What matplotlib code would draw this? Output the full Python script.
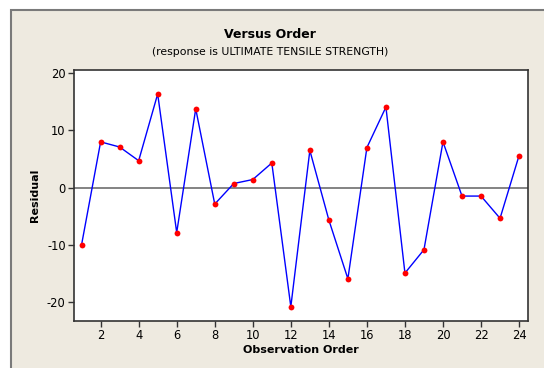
import numpy as np
import matplotlib.pyplot as plt
from matplotlib.patches import Rectangle

# residuals in observation order
order = np.arange(1, 25)
residual = [-10.0, 8.0, 7.1, 4.7, 16.4, -7.9, 13.8, -2.9, 0.7, 1.4, 4.3, -20.9,
            6.5, -5.7, -16.0, 7.0, 14.1, -15.0, -10.9, 8.0, -1.5, -1.5, -5.4, 5.6]
xticks = list(range(2, 25, 2))
yticks = [-20, -10, 0, 10, 20]

BG = '#EEEAE0'
plt.rcParams['font.family'] = 'DejaVu Sans'
plt.rcParams['axes.unicode_minus'] = False

fig = plt.figure(figsize=(5.44, 3.68), dpi=100)
fig.patch.set_facecolor('white')
# beige panel with grey frame (runs off the right/bottom edge)
fig.patches.append(Rectangle((11 / 544, -0.05), 1.2, 1 - 10 / 368 + 0.05,
                             transform=fig.transFigure, facecolor=BG,
                             edgecolor='#7a7a7a', linewidth=1.5, zorder=-1))

ax = fig.add_axes([74 / 544, 1 - 321 / 368, (528 - 74) / 544, (321 - 70) / 368])
ax.set_facecolor('white')
ax.axhline(0, color='#6e6e6e', linewidth=1.2, zorder=1)
ax.plot(order, residual, color='#0000FF', linewidth=1.0, zorder=2)
ax.plot(order, residual, 'o', color='#FF0000', markersize=4.2,
        markeredgewidth=0, zorder=3)

ax.set_xlim(0.6, 24.47)
ax.set_ylim(-23.4, 20.6)
ax.set_xticks(xticks)
ax.set_yticks(yticks)
ax.tick_params(direction='out', length=4, width=1, color='#333333',
               labelsize=8.3, pad=2)
for s in ax.spines.values():
    s.set_color('#333333')
    s.set_linewidth(1.2)

ax.set_xlabel('Observation Order', fontsize=8, fontweight='bold', labelpad=2)
ax.set_ylabel('Residual', fontsize=8, fontweight='bold', labelpad=5)

fig.text(270 / 544, 1 - 35 / 368, 'Versus Order', ha='center', va='center',
         fontsize=9, fontweight='bold')
fig.text(270 / 544, 1 - 52 / 368, '(response is ULTIMATE TENSILE STRENGTH)',
         ha='center', va='center', fontsize=7.8)

fig.savefig('out.png', dpi=100, facecolor=fig.get_facecolor())
